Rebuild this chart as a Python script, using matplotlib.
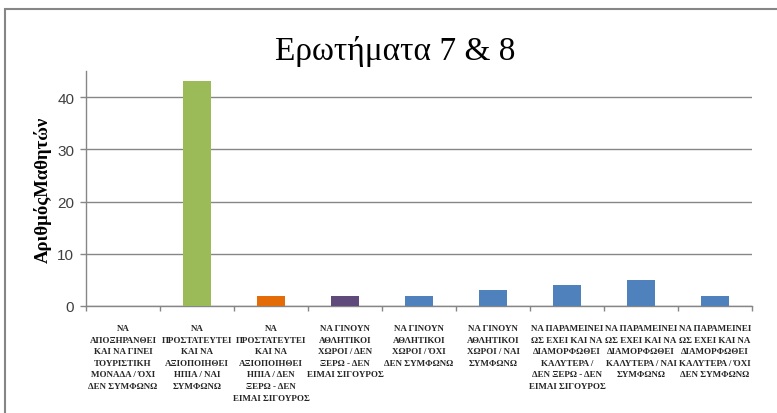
import numpy as np
import matplotlib
matplotlib.use('Agg')
import matplotlib.pyplot as plt
from matplotlib.patches import Rectangle

# κατηγορίες απαντήσεων (ερωτήματα 7 & 8)
categories = [
    "ΝΑ\nΑΠΟΞΗΡΑΝΘΕΙ\nΚΑΙ ΝΑ ΓΙΝΕΙ\nΤΟΥΡΙΣΤΙΚΗ\nΜΟΝΑΔΑ / ΌΧΙ\nΔΕΝ ΣΥΜΦΩΝΩ",
    "ΝΑ\nΠΡΟΣΤΑΤΕΥΤΕΙ\nΚΑΙ ΝΑ\nΑΞΙΟΠΟΙΗΘΕΙ\nΗΠΙΑ / ΝΑΙ\nΣΥΜΦΩΝΩ",
    "ΝΑ\nΠΡΟΣΤΑΤΕΥΤΕΙ\nΚΑΙ ΝΑ\nΑΞΙΟΠΟΙΗΘΕΙ\nΗΠΙΑ / ΔΕΝ\nΞΕΡΩ - ΔΕΝ\nΕΙΜΑΙ ΣΙΓΟΥΡΟΣ",
    "ΝΑ ΓΙΝΟΥΝ\nΑΘΛΗΤΙΚΟΙ\nΧΩΡΟΙ / ΔΕΝ\nΞΕΡΩ - ΔΕΝ\nΕΙΜΑΙ ΣΙΓΟΥΡΟΣ",
    "ΝΑ ΓΙΝΟΥΝ\nΑΘΛΗΤΙΚΟΙ\nΧΩΡΟΙ / ΌΧΙ\nΔΕΝ ΣΥΜΦΩΝΩ",
    "ΝΑ ΓΙΝΟΥΝ\nΑΘΛΗΤΙΚΟΙ\nΧΩΡΟΙ / ΝΑΙ\nΣΥΜΦΩΝΩ",
    "ΝΑ ΠΑΡΑΜΕΙΝΕΙ\nΩΣ ΕΧΕΙ ΚΑΙ ΝΑ\nΔΙΑΜΟΡΦΩΘΕΙ\nΚΑΛΥΤΕΡΑ /\nΔΕΝ ΞΕΡΩ - ΔΕΝ\nΕΙΜΑΙ ΣΙΓΟΥΡΟΣ",
    "ΝΑ ΠΑΡΑΜΕΙΝΕΙ\nΩΣ ΕΧΕΙ ΚΑΙ ΝΑ\nΔΙΑΜΟΡΦΩΘΕΙ\nΚΑΛΥΤΕΡΑ / ΝΑΙ\nΣΥΜΦΩΝΩ",
    "ΝΑ ΠΑΡΑΜΕΙΝΕΙ\nΩΣ ΕΧΕΙ ΚΑΙ ΝΑ\nΔΙΑΜΟΡΦΩΘΕΙ\nΚΑΛΥΤΕΡΑ / ΌΧΙ\nΔΕΝ ΣΥΜΦΩΝΩ",
]
students = [0, 43, 2, 2, 2, 3, 4, 5, 2]
bar_colors = ['#4F81BD', '#9BBB59', '#E36C09', '#604A7B',
              '#4F81BD', '#4F81BD', '#4F81BD', '#4F81BD', '#4F81BD']
y_ticks = [0, 10, 20, 30, 40]

fig = plt.figure(figsize=(7.77, 4.14), dpi=100)
ax = fig.add_axes([0.1107, 0.2585, 0.8571, 0.5675])

# πλαίσιο γραφήματος
fig.patches.append(Rectangle((5 / 777, -0.1), 1.2, 1 - 10 / 414 + 0.1,
                             transform=fig.transFigure, fill=False,
                             edgecolor='#868686', linewidth=1.5))

x = np.arange(len(categories))
ax.bar(x, students, width=0.39, color=bar_colors, zorder=3)

ax.set_xlim(-0.5, len(categories) - 0.5)
ax.set_ylim(0, 45)
ax.set_yticks(y_ticks)
ax.yaxis.grid(True, color='#868686', linewidth=1)
ax.set_axisbelow(True)

ax.set_xticks(x)
ax.set_xticklabels(categories, fontsize=6.5, family='Liberation Serif',
                   fontweight='bold', color='#262626', linespacing=1.6)
ax.set_xticks(np.arange(-0.5, len(categories), 1), minor=True)
ax.tick_params(axis='x', which='major', length=0, pad=13)
ax.tick_params(axis='x', which='minor', length=3.5, color='#868686', width=1)
ax.tick_params(axis='y', length=4.5, color='#868686', width=1, pad=4,
               labelsize=11, labelcolor='#404040')
for lbl in ax.get_yticklabels():
    lbl.set_family('Liberation Sans')

for side in ['top', 'right']:
    ax.spines[side].set_visible(False)
for side in ['left', 'bottom']:
    ax.spines[side].set_color('#868686')
    ax.spines[side].set_linewidth(1)

ax.set_ylabel('ΑριθμόςΜαθητών', fontsize=13.5, family='Liberation Serif',
              fontweight='bold', labelpad=4)
fig.text(0.508, 0.876, 'Ερωτήματα 7 & 8', ha='center', va='center',
         fontsize=24, family='Liberation Serif')

fig.savefig('out.png', dpi=100)
